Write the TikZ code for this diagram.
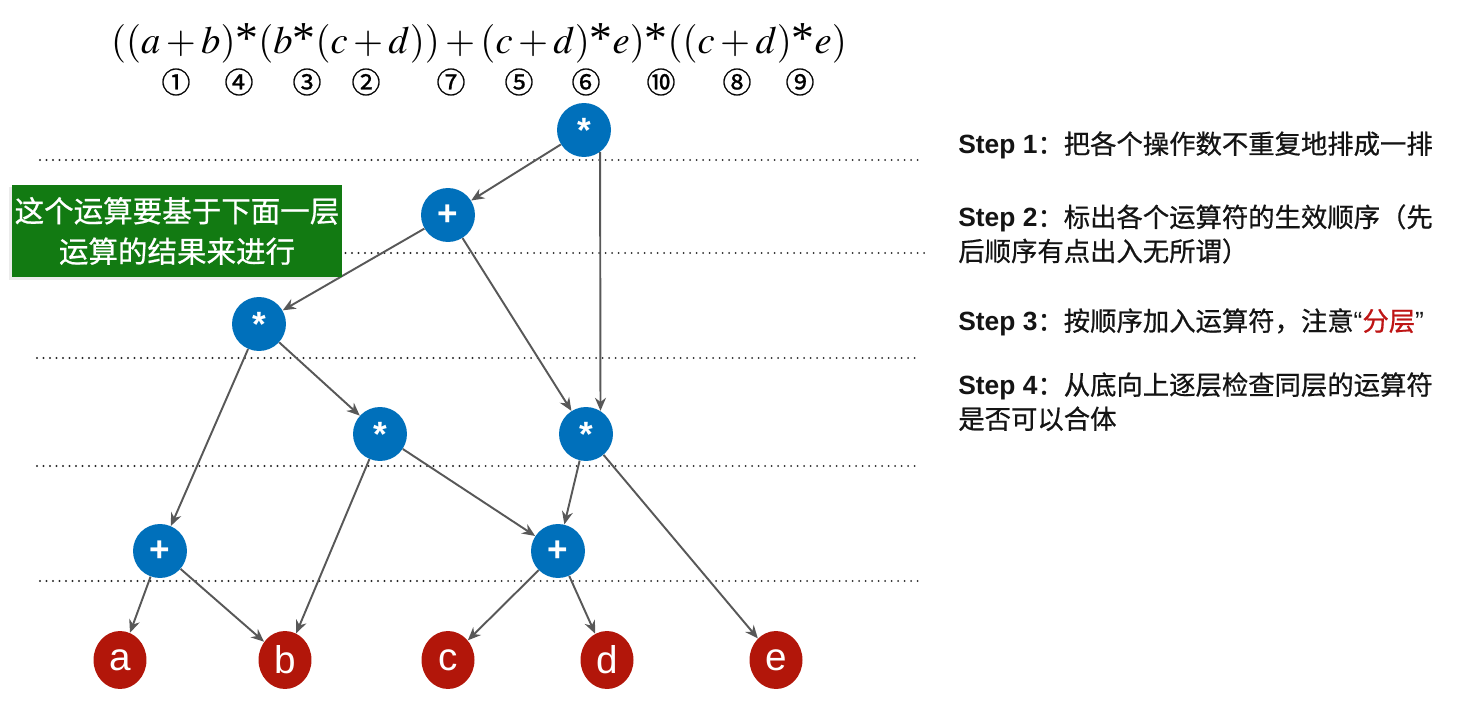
\documentclass[tikz,border=0pt]{standalone}
\usepackage{mathptmx}
\usepackage[no-math]{fontspec}
\setmainfont{Liberation Sans}
\newfontfamily\cjk[FakeBold=0.7]{Noto Sans CJK SC}
\newfontfamily\tms{Liberation Serif}
\usetikzlibrary{arrows.meta,positioning,shapes.geometric,shadows}
\definecolor{opblue}{RGB}{0,112,187}
\definecolor{leafred}{RGB}{178,22,10}
\definecolor{edgeink}{RGB}{88,88,88}
\definecolor{ruleink}{RGB}{40,40,40}
\definecolor{notegreen}{RGB}{18,122,18}
\definecolor{accent}{RGB}{190,20,20}
\newcommand{\mul}{\mathord{\mbox{\tms\fontsize{26}{28}\selectfont *}}}
\newcommand{\stp}[1]{{\normalfont\bfseries Step~#1}}
\tikzset{
  >={Stealth[length=2.6mm,width=2.2mm]},
  op/.style={circle,fill=opblue,text=white,minimum size=1.08cm,inner sep=0pt,
    font=\fontsize{20}{22}\selectfont\bfseries},
  leaf/.style={ellipse,fill=leafred,text=white,minimum width=1.06cm,minimum height=1.16cm,
    inner sep=0pt,font=\fontsize{22}{24}\selectfont},
  link/.style={->,line width=1.1pt,draw=edgeink},
  level/.style={line width=1.2pt,draw=ruleink,dash pattern=on 0pt off 3.7pt,line cap=round},
  note/.style={fill=notegreen,text=white,minimum width=6.6cm,minimum height=1.86cm,
    align=center,inner sep=0pt,font=\cjk\fontsize{16.8}{23}\selectfont,
    drop shadow={opacity=0.15,shadow xshift=-1.5pt,shadow yshift=-1.5pt}},
  stepline/.style={anchor=north west,align=left,inner sep=0pt,text=black!92,
    font=\cjk\fontsize{15}{19.4}\selectfont},
  order/.style={font=\cjk\fontsize{16.5}{18}\selectfont},
  formula/.style={font=\fontsize{22}{27}\selectfont},
}
\begin{document}
\begin{tikzpicture}[x=0.02cm,y=-0.02cm]
  \useasboundingbox (0,0) rectangle (1474,719);
  % expression and operator order
  \node[formula] (expr) at (479,43)
    {$((a+b)\mul(b\mul(c+d))+(c+d)\mul e)\mul((c+d)\mul e)$};
  \foreach \n/\x in {①/176,④/239,③/307,②/366,⑦/451,⑤/519,⑥/586,⑩/661,⑧/737,⑨/800}
    \node[order] (ord\x) at (\x,82) {\n};

  % levels
  \foreach \y/\a/\b in {160/40/920,253/40/928,358/37/916,466/37/916,581/40/920}
    \draw[level] (\a,\y) -- (\b,\y);

  % operators
  \node[op] (root) at (584,130) {*};
  \node[op] (add1) at (448,215) {+};
  \node[op] (mulL) at (259,324) {*};
  \node[op] (mulM) at (380,434) {*};
  \node[op] (mulR) at (586,434) {*};
  \node[op] (addL) at (160,551) {+};
  \node[op] (addR) at (558,551) {+};
  % operands
  \foreach \v/\x in {a/120,b/285,c/448,d/607,e/776}
    \node[leaf] (\v) at (\x,660) {\v};

  \draw[link] (root) -- (add1);
  \draw[link] (root.-54) -- (mulR.58);
  \draw[link] (add1) -- (mulL);
  \draw[link] (add1) -- (mulR);
  \draw[link] (mulL) -- (addL);
  \draw[link] (mulL) -- (mulM);
  \draw[link] (mulM) -- (b);
  \draw[link] (mulM) -- (addR);
  \draw[link] (mulR) -- (addR);
  \draw[link] (mulR) -- (e);
  \draw[link] (addL) -- (a);
  \draw[link] (addL) -- (b);
  \draw[link] (addR) -- (c);
  \draw[link] (addR) -- (d);

  \node[note] (hint) at (177,231) {这个运算要基于下面一层\\运算的结果来进行};

  % steps
  \node[stepline] (s1) at (958,131) {\stp{1}：把各个操作数不重复地排成一排};
  \node[stepline] (s2) at (958,204) {\stp{2}：标出各个运算符的生效顺序（先\\后顺序有点出入无所谓）};
  \node[stepline] (s3) at (958,308) {\stp{3}：按顺序加入运算符，注意{\normalfont“}\textcolor{accent}{分层}{\normalfont”}};
  \node[stepline] (s4) at (958,372) {\stp{4}：从底向上逐层检查同层的运算符\\是否可以合体};
\end{tikzpicture}
\end{document}
